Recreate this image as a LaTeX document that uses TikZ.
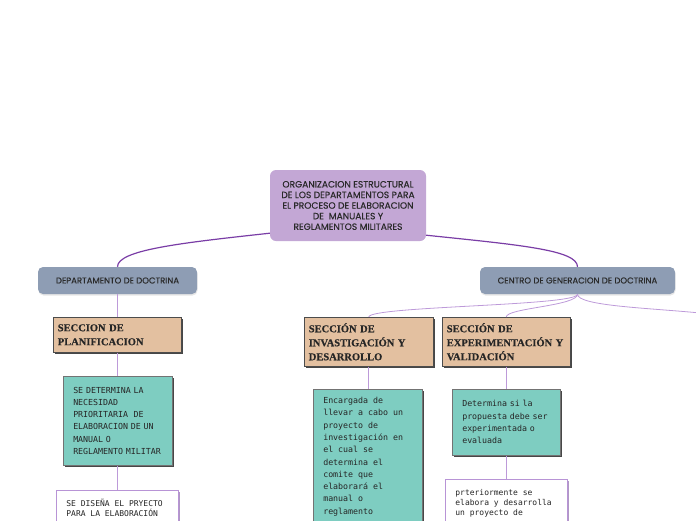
\documentclass[tikz,border=0pt]{standalone}
\usepackage{fontspec}
\setmainfont{Poppins}
\newfontfamily\popm[FakeBold=0.35]{Poppins}
\newfontfamily\serifb[FakeBold=0.3]{Liberation Serif}
\newfontfamily\monof{DejaVu Sans Mono}
\usetikzlibrary{shadows,calc}
\definecolor{rootc}{HTML}{C3A7D5}
\definecolor{deptc}{HTML}{8E9DB4}
\definecolor{tanc}{HTML}{E3C0A0}
\definecolor{tealc}{HTML}{7ECDC1}
\definecolor{mainln}{HTML}{7A3DA6}
\definecolor{subln}{HTML}{BD9AD9}
\definecolor{whbord}{HTML}{B894D6}
\definecolor{txt}{HTML}{2A2A2A}
\tikzset{
  rootbox/.style={rectangle, rounded corners=6pt, fill=rootc, minimum width=156, minimum height=71,
    align=center, inner sep=0, text=txt, font=\popm\fontsize{9.1}{10.6}\selectfont},
  deptbox/.style={rectangle, rounded corners=5pt, fill=deptc, minimum width=159, minimum height=27,
    inner sep=0, text=txt, font=\popm\fontsize{8.5}{9}\selectfont,
    drop shadow={shadow xshift=0.5pt, shadow yshift=-1.5pt, opacity=0.2}},
  secbox/.style={rectangle, fill=tanc, draw=black!70, line width=0.6pt, anchor=north west,
    align=left, inner xsep=4.5, inner ysep=2, text=black!85, font=\serifb\bfseries\fontsize{10.5}{14}\selectfont,
    drop shadow={shadow xshift=2pt, shadow yshift=-2pt, fill=black!80, opacity=0.9}},
  tealbox/.style={rectangle, fill=tealc, draw=black!55, line width=0.5pt, anchor=north west,
    align=left, inner xsep=10, inner ysep=0, text=black!85, font=\monof\fontsize{8.3}{12.3}\selectfont,
    drop shadow={shadow xshift=2pt, shadow yshift=-2pt, fill=black!80, opacity=0.9}},
  whitebox/.style={rectangle, fill=white, draw=whbord, line width=0.8pt, anchor=north west,
    align=left, inner xsep=10, inner ysep=0, text=black!85, font=\monof\fontsize{8}{10}\selectfont,
    drop shadow={shadow xshift=1.5pt, shadow yshift=-1.5pt, fill=whbord!85!black, opacity=0.8}},
  mainconn/.style={draw=mainln, line width=1.2pt},
  subconn/.style={draw=subln, line width=0.8pt},
}
\begin{document}
\begin{tikzpicture}[x=1pt,y=-1pt]
\useasboundingbox (0,0) rectangle (696,520);
\clip (0,0) rectangle (696,520);

% root
\node[rootbox] (root) at (348,205.5) {ORGANIZACION ESTRUCTURAL\\DE LOS DEPARTAMENTOS PARA\\EL PROCESO DE ELABORACION\\DE\ \ MANUALES Y\\REGLAMENTOS MILITARES};

% departments
\node[deptbox] (dd) at (117.5,280.5) {DEPARTAMENTO DE DOCTRINA};
\node[deptbox, minimum width=195] (cg) at (577.5,280.5) {CENTRO DE GENERACION DE DOCTRINA};

% sections
\node[secbox, text width=119, minimum height=35] (sp) at (53,317) {SECCION DE\\PLANIFICACION};
\node[secbox, text width=120, minimum height=49] (si) at (304,317) {SECCIÓN DE\\INVASTIGACIÓN Y\\DESARROLLO};
\node[secbox, text width=119, minimum height=49] (se) at (442,317) {SECCIÓN DE\\EXPERIMENTACIÓN Y\\VALIDACIÓN};

% teal boxes
\node[tealbox, text width=89, minimum height=89] (tp) at (63,376) {SE DETERMINA LA\\NECESIDAD\\PRIORITARIA\ \ DE\\ELABORACION DE UN\\MANUAL O\\REGLAMENTO MILITAR};
\node[tealbox, inner ysep=8] (ti) at (313,389) {\parbox[t][160pt][t]{89pt}{\raggedright Encargada de\\llevar a cabo un\\proyecto de\\investigación en\\el cual se\\determina el\\comite que\\elaborará el\\manual o\\reglamento}};
\node[tealbox, text width=88, minimum height=66] (te) at (452,389) {Determina si la\\propuesta debe ser\\experimentada o\\evaluada};

% white boxes
\node[whitebox, inner ysep=9] (wp) at (56,490) {\parbox[t][80pt][t]{102pt}{\raggedright SE DISEÑA EL PRYECTO\\PARA LA ELABORACIÓN}};
\node[whitebox, inner ysep=10] (we) at (445,479) {\parbox[t][80pt][t]{102pt}{\raggedright prteriormente se\\elabora y desarrolla\\un proyecto de}};

\coordinate (offr) at (700,313);

% main connectors
\draw[mainconn] ($(root.south west)+(0,-8)$) .. controls (180,243) and (117.5,250) .. (dd.north);
\draw[mainconn] ($(root.south east)+(0,-6)$) .. controls (520,245) and (577.5,250) .. (cg.north);

% sub connectors
\draw[subconn] (dd.south) -- (dd.south |- sp.north);
\draw[subconn] (sp.south -| dd.south) -- (tp.north -| dd.south);
\draw[subconn] (tp.south -| dd.south) -- (wp.north -| dd.south);
\draw[subconn] (cg.south) .. controls (577.5,306) and (369,306) .. (si.north);
\draw[subconn] (cg.south) .. controls (577.5,306) and (506,308) .. (se.north);
\draw[subconn] (cg.south) .. controls (577.5,306) and (650,308) .. (offr);
\draw[subconn] (si.south) -- (si.south |- ti.north);
\draw[subconn] (se.south) -- (se.south |- te.north);
\draw[subconn] (te.south) -- (te.south |- we.north);
\end{tikzpicture}
\end{document}
